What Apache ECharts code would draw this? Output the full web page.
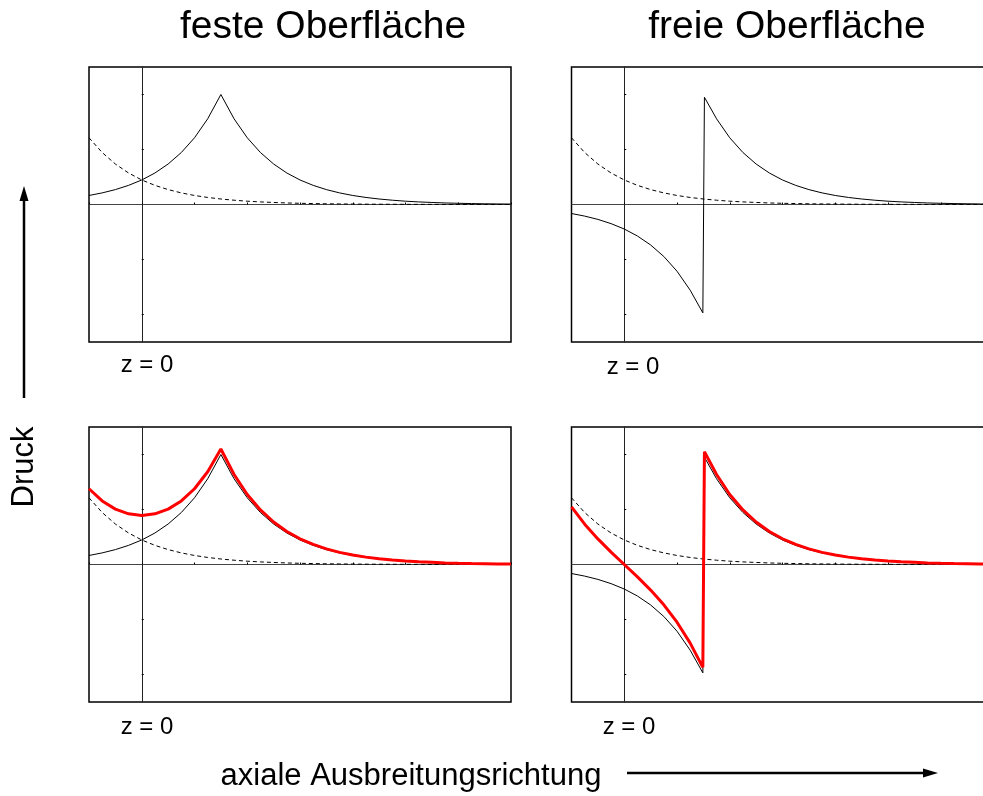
<!DOCTYPE html>
<html>
<head>
<meta charset="utf-8">
<script src="https://cdn.jsdelivr.net/npm/echarts/dist/echarts.min.js"></script>
<style>
  html, body { margin: 0; padding: 0; background: #fff; }
  #chart { width: 983px; height: 796px; }
</style>
</head>
<body>
<div id="chart"></div>
<script>
// Axial positions (z) sampled for the smooth curves
const zFixed = [-1, -0.75, -0.5, -0.25, 0, 0.25, 0.5, 0.75, 1, 1.25, 1.5, 1.75, 2, 2.25, 2.5, 2.75, 3,
  3.25, 3.5, 3.75, 4, 4.25, 4.5, 4.75, 5, 5.25, 5.5, 5.75, 6, 6.25, 6.5, 6.75, 7];
// Same positions, but with the jump of the free-surface source split around z = 1.5
const zFree = [-1, -0.75, -0.5, -0.25, 0, 0.25, 0.5, 0.75, 1, 1.25, 1.49, 1.52, 1.75, 2, 2.25, 2.5, 2.75, 3,
  3.25, 3.5, 3.75, 4, 4.25, 4.5, 4.75, 5, 5.25, 5.5, 5.75, 6, 6.25, 6.5, 6.75, 7];

// Pressure of the source alone (solid black), fixed surface
const sourceFixed = [0.164, 0.211, 0.271, 0.348, 0.446, 0.573, 0.736, 0.945, 1.213, 1.558, 2.0, 1.558, 1.213,
  0.945, 0.736, 0.573, 0.446, 0.348, 0.271, 0.211, 0.164, 0.128, 0.100, 0.078, 0.060, 0.047, 0.037, 0.028,
  0.022, 0.017, 0.013, 0.010, 0.008];
// Mirror-source contribution (dashed)
const mirror = [1.213, 0.945, 0.736, 0.573, 0.446, 0.348, 0.271, 0.211, 0.164, 0.128, 0.100, 0.078, 0.060,
  0.047, 0.037, 0.028, 0.022, 0.017, 0.013, 0.010, 0.008, 0.006, 0.005, 0.004, 0.003, 0.002, 0.002, 0.001,
  0.001, 0.001, 0.001, 0.000, 0.000];
// Total pressure, fixed surface (red)
const totalFixed = [1.377, 1.156, 1.007, 0.921, 0.892, 0.921, 1.007, 1.156, 1.377, 1.686, 2.100, 1.636, 1.273,
  0.992, 0.773, 0.601, 0.468, 0.365, 0.284, 0.221, 0.172, 0.134, 0.105, 0.082, 0.063, 0.049, 0.039, 0.029,
  0.023, 0.018, 0.014, 0.010, 0.008];
// Source alone, free surface (sign change at the source)
const sourceFree = [-0.164, -0.211, -0.271, -0.348, -0.446, -0.573, -0.736, -0.945, -1.213, -1.558, -1.97, 1.95,
  1.558, 1.213, 0.945, 0.736, 0.573, 0.446, 0.348, 0.271, 0.211, 0.164, 0.128, 0.100, 0.078, 0.060, 0.047,
  0.037, 0.028, 0.022, 0.017, 0.013, 0.010, 0.008];
// Total pressure, free surface (red)
const totalFree = [1.049, 0.734, 0.465, 0.225, 0.000, -0.225, -0.465, -0.734, -1.049, -1.430, -1.87, 2.05,
  1.636, 1.273, 0.992, 0.773, 0.601, 0.468, 0.365, 0.284, 0.221, 0.172, 0.134, 0.105, 0.082, 0.063, 0.049,
  0.039, 0.029, 0.023, 0.018, 0.014, 0.010, 0.008];

const xTicks = [-1, 0, 1, 2, 3, 4, 5, 6, 7];
const yTicks = [-2, -1, 1, 2];

const FONT = '"Liberation Sans", Arial, Helvetica, sans-serif';
const pair = (xs, ys) => xs.map((x, i) => [x, ys[i]]);

// The right-hand panels run past the right edge of the canvas
const grids = [
  { left: 89, top: 67, width: 422, height: 275 },
  { left: 571.5, top: 67, width: 422, height: 275 },
  { left: 89, top: 427, width: 422, height: 275 },
  { left: 571.5, top: 427, width: 422, height: 275 }
].map(g => Object.assign({
  show: true, borderColor: '#000', borderWidth: 1.5, backgroundColor: '#fff',
  outerBoundsMode: 'none', containLabel: false
}, g));

const xAxes = grids.map((g, i) => ({
  gridIndex: i, type: 'value', min: -1, max: 7,
  axisLine: { onZero: true, lineStyle: { color: '#444', width: 1 } },
  axisTick: { show: true, customValues: xTicks, length: 2, inside: true, lineStyle: { color: '#000' } },
  axisLabel: { show: false }, splitLine: { show: false }
}));
const yAxes = grids.map((g, i) => ({
  gridIndex: i, type: 'value', min: -2.5, max: 2.5,
  axisLine: { onZero: true, lineStyle: { color: '#222', width: 1 } },
  axisTick: { show: true, customValues: yTicks, length: 2, inside: true, lineStyle: { color: '#000' } },
  axisLabel: { show: false }, splitLine: { show: false }
}));

function curve(idx, data, kind) {
  const styles = {
    solid: { color: '#000', width: 1, type: 'solid' },
    dashed: { color: '#000', width: 1, type: [4, 3] },
    red: { color: '#ff0000', width: 3, type: 'solid' }
  };
  return {
    type: 'line', xAxisIndex: idx, yAxisIndex: idx, data: data,
    showSymbol: false, symbol: 'none', animation: false, silent: true,
    lineStyle: styles[kind], z: kind === 'red' ? 5 : 3
  };
}

const series = [
  curve(0, pair(zFixed, mirror), 'dashed'),
  curve(0, pair(zFixed, sourceFixed), 'solid'),
  curve(1, pair(zFixed, mirror), 'dashed'),
  curve(1, pair(zFree, sourceFree), 'solid'),
  curve(2, pair(zFixed, mirror), 'dashed'),
  curve(2, pair(zFixed, sourceFixed), 'solid'),
  curve(2, pair(zFixed, totalFixed), 'red'),
  curve(3, pair(zFixed, mirror), 'dashed'),
  curve(3, pair(zFree, sourceFree), 'solid'),
  curve(3, pair(zFree, totalFree), 'red')
];

function label(text, x, y, size, extra) {
  return Object.assign({
    type: 'text', x: x, y: y, silent: true,
    style: { text: text, fill: '#000', font: size + 'px ' + FONT, textAlign: 'center', textVerticalAlign: 'middle' }
  }, extra || {});
}

const graphic = [
  label('feste Oberfläche', 323, 27, 39),
  label('freie Oberfläche', 787, 27, 39),
  label('z = 0', 147, 365, 24),
  label('z = 0', 633, 367, 24),
  label('z = 0', 147, 727, 24),
  label('z = 0', 629, 727, 24),
  label('axiale Ausbreitungsrichtung', 411, 776, 31),
  label('Druck', 24, 467, 31, { rotation: Math.PI / 2 }),
  // pressure arrow (vertical)
  { type: 'line', silent: true, shape: { x1: 24, y1: 398, x2: 24, y2: 198 }, style: { stroke: '#000', lineWidth: 2.5 } },
  { type: 'polygon', silent: true, shape: { points: [[24, 186], [19.5, 201], [28.5, 201]] }, style: { fill: '#000' } },
  // propagation arrow (horizontal)
  { type: 'line', silent: true, shape: { x1: 627, y1: 773, x2: 926, y2: 773 }, style: { stroke: '#000', lineWidth: 2.5 } },
  { type: 'polygon', silent: true, shape: { points: [[938, 773], [923, 768.5], [923, 777.5]] }, style: { fill: '#000' } }
];

const chart = echarts.init(document.getElementById('chart'), null, { renderer: 'canvas' });
chart.setOption({
  animation: false,
  backgroundColor: '#fff',
  grid: grids,
  xAxis: xAxes,
  yAxis: yAxes,
  series: series,
  graphic: graphic
});
</script>
</body>
</html>
